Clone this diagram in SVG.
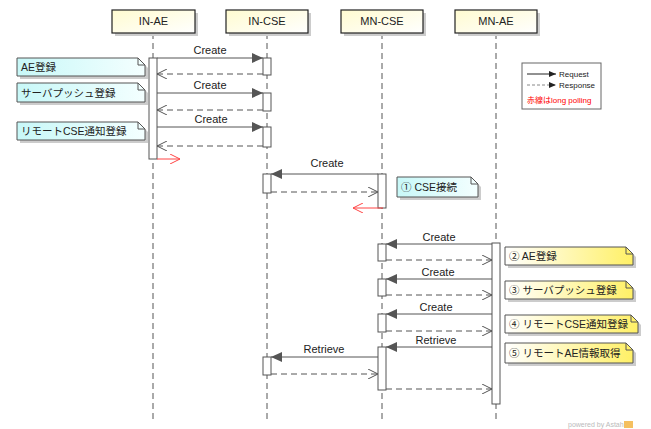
<svg xmlns="http://www.w3.org/2000/svg" width="651" height="429" viewBox="0 0 651 429">
<defs>
<linearGradient id="gy" x1="0" y1="0" x2="1" y2="1"><stop offset="0" stop-color="#fffbd0"/><stop offset="1" stop-color="#ffffff"/></linearGradient>
<linearGradient id="gc" x1="0" y1="0" x2="1" y2="0"><stop offset="0" stop-color="#c8f8f8"/><stop offset="1" stop-color="#f4ffff"/></linearGradient>
<linearGradient id="gn" x1="0" y1="0" x2="1" y2="0"><stop offset="0" stop-color="#ffffff"/><stop offset="1" stop-color="#fff066"/></linearGradient>
<marker id="fa" markerWidth="12" markerHeight="10" refX="11" refY="5" orient="auto" markerUnits="userSpaceOnUse"><path d="M0,0 L11,5 L0,10 Z" fill="#555"/></marker>
<marker id="oa" markerWidth="12" markerHeight="10" refX="10" refY="5" orient="auto" markerUnits="userSpaceOnUse"><path d="M0,0 L10,5 L0,10" fill="none" stroke="#555" stroke-width="1"/></marker>
<marker id="ra" markerWidth="12" markerHeight="10" refX="10" refY="5" orient="auto" markerUnits="userSpaceOnUse"><path d="M0,0 L10,5 L0,10" fill="none" stroke="#f44" stroke-width="1"/></marker>
<marker id="lf" markerWidth="8" markerHeight="6" refX="7" refY="3" orient="auto" markerUnits="userSpaceOnUse"><path d="M0,0 L7,3 L0,6 Z" fill="#222"/></marker>
</defs>
<style>
text{font-family:"Liberation Sans","Noto Sans CJK JP",sans-serif;font-size:11px;fill:#222}
.hd{fill:url(#gy);stroke:#222;stroke-width:1.2}
.sh{fill:#ccc}
.ll{stroke:#555;stroke-width:1;stroke-dasharray:6 4}
.bar{fill:#fff;stroke:#555;stroke-width:1}
.req{stroke:#555;stroke-width:1;fill:none;marker-end:url(#fa)}
.res{stroke:#555;stroke-width:1;fill:none;stroke-dasharray:6 4;marker-end:url(#oa)}
.red{stroke:#f44;stroke-width:1;fill:none;marker-end:url(#ra)}
.nc{fill:url(#gc);stroke:#555;stroke-width:1}
.ny{fill:url(#gn);stroke:#555;stroke-width:1}
.fold{fill:none;stroke:#555;stroke-width:1}
.lbl{text-anchor:middle}
.nt{font-size:10.5px}
.lg{font-size:8px}
</style>
<rect x="0" y="0" width="651" height="429" fill="#fff"/>

<g id="lifelines">
<line class="ll" x1="153" y1="33" x2="153" y2="420"/>
<line class="ll" x1="267" y1="33" x2="267" y2="420"/>
<line class="ll" x1="382" y1="33" x2="382" y2="420"/>
<line class="ll" x1="496" y1="33" x2="496" y2="420"/>
</g>

<g id="IN-AE"><rect class="sh" x="115" y="13" width="83" height="23"/><rect class="hd" x="112" y="10" width="83" height="23"/><text class="lbl" x="153.5" y="25">IN-AE</text></g>
<g id="IN-CSE"><rect class="sh" x="229" y="13" width="82" height="23"/><rect class="hd" x="226" y="10" width="82" height="23"/><text class="lbl" x="267" y="25">IN-CSE</text></g>
<g id="MN-CSE"><rect class="sh" x="344" y="13" width="82" height="23"/><rect class="hd" x="341" y="10" width="82" height="23"/><text class="lbl" x="382" y="25">MN-CSE</text></g>
<g id="MN-AE"><rect class="sh" x="458" y="13" width="82" height="23"/><rect class="hd" x="455" y="10" width="82" height="23"/><text class="lbl" x="496" y="25">MN-AE</text></g>

<g id="activations">
<rect class="bar" x="149" y="58" width="8" height="101"/>
<rect class="bar" x="263" y="58" width="8" height="17"/>
<rect class="bar" x="263" y="93" width="8" height="18"/>
<rect class="bar" x="263" y="127" width="8" height="20"/>
<rect class="bar" x="263" y="174" width="8" height="19"/>
<rect class="bar" x="263" y="357" width="8" height="18"/>
<rect class="bar" x="378" y="174" width="8" height="34"/>
<rect class="bar" x="378" y="244" width="8" height="17"/>
<rect class="bar" x="378" y="279" width="8" height="17"/>
<rect class="bar" x="378" y="314" width="8" height="18"/>
<rect class="bar" x="378" y="347" width="8" height="43"/>
<rect class="bar" x="492" y="243" width="8" height="161"/>
</g>

<g id="connectors">
<line class="req" x1="157" y1="58" x2="263" y2="58"/>
<text class="lbl" x="210" y="54">Create</text>
<line class="res" x1="263" y1="74" x2="157" y2="74"/>
<line class="req" x1="157" y1="93" x2="263" y2="93"/>
<text class="lbl" x="210" y="89">Create</text>
<line class="res" x1="263" y1="110" x2="157" y2="110"/>
<line class="req" x1="157" y1="127" x2="263" y2="127"/>
<text class="lbl" x="211" y="123">Create</text>
<line class="res" x1="263" y1="146" x2="157" y2="146"/>
<line class="red" x1="157" y1="159" x2="180" y2="159"/>

<line class="req" x1="378" y1="174" x2="271" y2="174"/>
<text class="lbl" x="327" y="167">Create</text>
<line class="res" x1="271" y1="192" x2="378" y2="192"/>
<line class="red" x1="383" y1="208" x2="353" y2="208"/>

<line class="req" x1="492" y1="244" x2="386" y2="244"/>
<text class="lbl" x="439" y="241">Create</text>
<line class="res" x1="386" y1="260" x2="492" y2="260"/>
<line class="req" x1="492" y1="279" x2="386" y2="279"/>
<text class="lbl" x="438" y="276">Create</text>
<line class="res" x1="386" y1="295" x2="492" y2="295"/>
<line class="req" x1="492" y1="314" x2="386" y2="314"/>
<text class="lbl" x="436" y="311">Create</text>
<line class="res" x1="386" y1="331" x2="492" y2="331"/>
<line class="req" x1="492" y1="347" x2="386" y2="347"/>
<text class="lbl" x="436" y="344">Retrieve</text>
<line class="req" x1="378" y1="357" x2="271" y2="357"/>
<text class="lbl" x="324" y="353">Retrieve</text>
<line class="res" x1="271" y1="374" x2="378" y2="374"/>
<line class="res" x1="386" y1="389" x2="492" y2="389"/>
</g>

<g id="note-ae">
<path class="sh" d="M20,61 h121 l7,7 v11 h-128 z"/>
<path class="nc" d="M17,58 h121 l7,7 v11 h-128 z"/><path class="fold" d="M138,58 v7 h7"/>
<text class="nt" x="21" y="71">AE登録</text></g>
<g id="note-push">
<path class="sh" d="M20,86 h121 l7,7 v12 h-128 z"/>
<path class="nc" d="M17,83 h121 l7,7 v12 h-128 z"/><path class="fold" d="M138,83 v7 h7"/>
<text class="nt" x="21" y="97">サーバプッシュ登録</text></g>
<g id="note-remote">
<path class="sh" d="M20,125 h121 l7,7 v11 h-128 z"/>
<path class="nc" d="M17,122 h121 l7,7 v11 h-128 z"/><path class="fold" d="M138,122 v7 h7"/>
<text class="nt" x="21" y="135">リモートCSE通知登録</text></g>
<g id="note-cse">
<path class="sh" d="M400,180 h74 l7,7 v13 h-81 z"/>
<path class="nc" d="M397,177 h74 l7,7 v13 h-81 z"/><path class="fold" d="M471,177 v7 h7"/>
<text class="nt" x="401" y="191">① CSE接続</text></g>

<g id="note-2">
<path class="sh" d="M508,250 h121 l7,7 v11 h-128 z"/>
<path class="ny" d="M505,247 h121 l7,7 v11 h-128 z"/><path class="fold" d="M626,247 v7 h7"/>
<text class="nt" x="509" y="260">② AE登録</text></g>
<g id="note-3">
<path class="sh" d="M508,284 h121 l7,7 v11 h-128 z"/>
<path class="ny" d="M505,281 h121 l7,7 v11 h-128 z"/><path class="fold" d="M626,281 v7 h7"/>
<text class="nt" x="509" y="294">③ サーバプッシュ登録</text></g>
<g id="note-4">
<path class="sh" d="M508,318 h126 l7,7 v11 h-133 z"/>
<path class="ny" d="M505,315 h126 l7,7 v11 h-133 z"/><path class="fold" d="M631,315 v7 h7"/>
<text class="nt" x="509" y="328">④ リモートCSE通知登録</text></g>
<g id="note-5">
<path class="sh" d="M508,346 h121 l7,7 v13 h-128 z"/>
<path class="ny" d="M505,343 h121 l7,7 v13 h-128 z"/><path class="fold" d="M626,343 v7 h7"/>
<text class="nt" x="509" y="357">⑤ リモートAE情報取得</text></g>

<g id="legend">
<rect x="522" y="63" width="79" height="46" fill="#fff" stroke="#666" stroke-width="1"/>
<line x1="527" y1="74" x2="556" y2="74" stroke="#222" stroke-width="1" marker-end="url(#lf)"/>
<text class="lg" x="559" y="77">Request</text>
<line x1="527" y1="85" x2="556" y2="85" stroke="#888" stroke-width="1" stroke-dasharray="3 2" marker-end="url(#lf)"/>
<text class="lg" x="559" y="88">Response</text>
<text class="lg" x="527" y="103" style="fill:#f00">赤線はlong polling</text>
</g>

<g id="footer">
<text x="568" y="427" style="font-size:7px;fill:#bbb">powered by Astah</text>
<rect x="624" y="421" width="9" height="7" fill="#f5c060"/>
</g>
</svg>
